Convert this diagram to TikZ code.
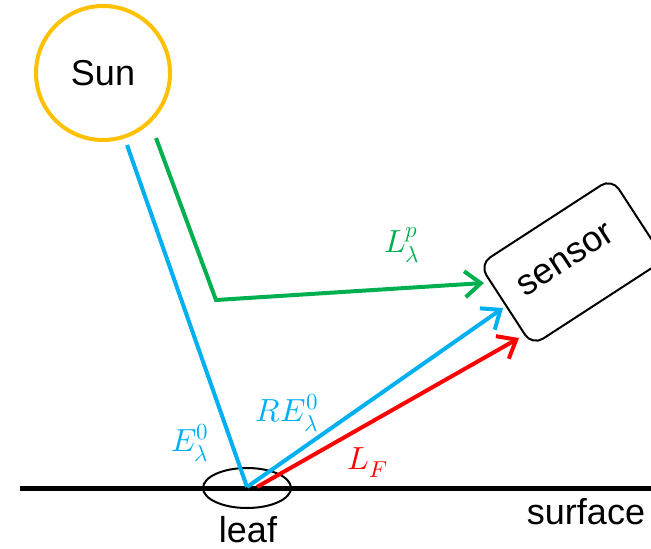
\documentclass[tikz,border=0pt]{standalone}
\usepackage{fontspec}
\usepackage{unicode-math}
\setmainfont{Liberation Sans}
\setmathfont{Latin Modern Math}
\usetikzlibrary{arrows.meta,shapes.geometric}
\definecolor{sunorange}{HTML}{FFC000}
\definecolor{skyblue}{HTML}{00B0F0}
\definecolor{leafgreen}{HTML}{00B050}
\definecolor{fred}{HTML}{FF0000}
\newcommand{\bigscr}[1]{\mbox{\fontsize{23}{25}\selectfont$#1$}}
\begin{document}
\begin{tikzpicture}[x=1pt,y=-1pt,
  lbl/.style={font=\fontsize{36}{40}\selectfont, inner sep=0pt},
  mlbl/.style={font=\fontsize{32}{36}\selectfont, inner sep=0pt},
  ray/.style={line width=4pt},
  tip/.style={-{Straight Barb[length=16pt,width=26pt]}}]
\useasboundingbox (0,0) rectangle (651,549);
% surface
\coordinate (sl) at (20,488);
\coordinate (sr) at (651,488);
\draw[line width=5pt] (sl) -- (sr);
\node[lbl, anchor=center] (surf) at (586,512) {surface};
% sun
\node[draw=sunorange, line width=4pt, circle, minimum size=134pt, inner sep=0pt] (sun) at (103,73) {};
\node[lbl] (suntext) at (103,73) {Sun};
% leaf
\node[draw, line width=2pt, ellipse, minimum width=88pt, minimum height=40pt, inner sep=0pt] (leaf) at (247,488) {};
\node[lbl] (leaftext) at (248,530) {leaf};
% sensor
\node[draw, line width=2pt, rounded corners=13pt, minimum width=158pt, minimum height=97pt, rotate=33, inner sep=0pt] (sensor) at (572,262) {};
\node[lbl, rotate=33] (sensortext) at (566,260) {sensor};
% coordinates
\coordinate (bstart) at (127,145);
\coordinate (vtx) at (247,487);
\coordinate (rstart) at (257,487);
\coordinate (btip) at (503,308);
\coordinate (rtip) at (519,338);
\coordinate (gstart) at (156,138);
\coordinate (gcorner) at (216,300);
\coordinate (gtip) at (484,283);
% rays
\draw[ray, skyblue] (bstart) -- (vtx);
\draw[ray, skyblue, tip] (vtx) -- (btip);
\draw[ray, fred, tip] (rstart) -- (rtip);
\draw[ray, leafgreen, tip] (gstart) -- (gcorner) -- (gtip);
% labels
\node[mlbl, text=skyblue] (elab) at (190,443) {$E_{\bigscr{\lambda}}^{\bigscr{0}}$};
\node[mlbl, text=skyblue] (relab) at (287,413) {$RE_{\bigscr{\lambda}}^{\bigscr{0}}$};
\node[mlbl, text=fred] (lflab) at (368,463) {$L_{\bigscr{F}}$};
\node[mlbl, text=leafgreen] (lplab) at (402,245) {$L_{\bigscr{\lambda}}^{\bigscr{p}}$};
\end{tikzpicture}
\end{document}
